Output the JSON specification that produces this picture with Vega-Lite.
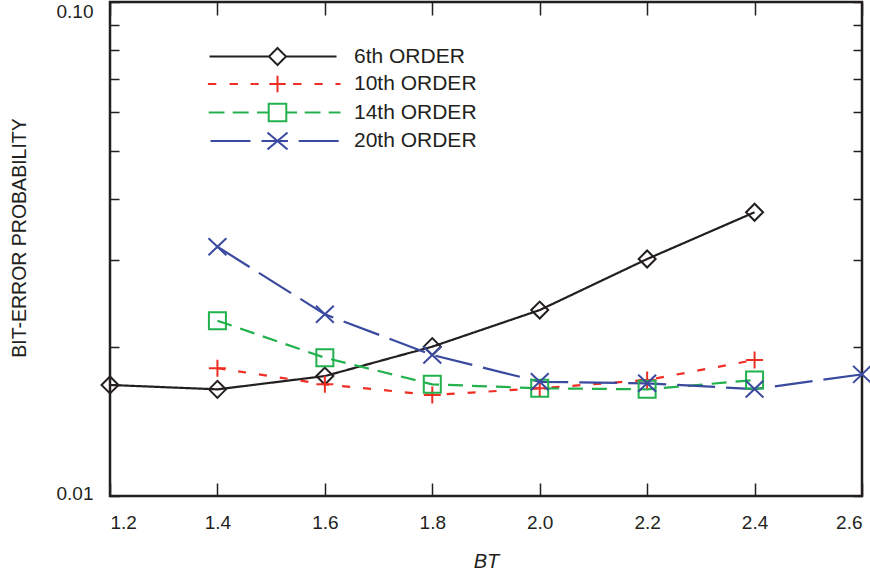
{
  "$schema": "https://vega.github.io/schema/vega-lite/v6.json",
  "width": 752,
  "height": 494,
  "autosize": "none",
  "padding": {"left": 110, "top": 2, "right": 8, "bottom": 79},
  "config": {
    "font": "Liberation Sans",
    "view": {"stroke": "#231f20", "strokeWidth": 2.5},
    "axis": {
      "labelFont": "Liberation Sans",
      "labelFontSize": 19,
      "labelColor": "#231f20",
      "tickColor": "#231f20",
      "tickWidth": 1.5,
      "grid": false,
      "domain": false,
      "labelOverlap": false,
      "titleFont": "Liberation Sans",
      "titleFontSize": 20,
      "titleFontWeight": "normal",
      "titleColor": "#231f20"
    }
  },
  "data": {
    "values": [
      {"BT": 1.2, "series": "6th ORDER", "p": 0.01678},
      {"BT": 1.4, "series": "6th ORDER", "p": 0.01644},
      {"BT": 1.6, "series": "6th ORDER", "p": 0.01749},
      {"BT": 1.8, "series": "6th ORDER", "p": 0.02006},
      {"BT": 2.0, "series": "6th ORDER", "p": 0.02379},
      {"BT": 2.2, "series": "6th ORDER", "p": 0.03018},
      {"BT": 2.4, "series": "6th ORDER", "p": 0.03753},
      {"BT": 1.4, "series": "10th ORDER", "p": 0.01814},
      {"BT": 1.6, "series": "10th ORDER", "p": 0.01683},
      {"BT": 1.8, "series": "10th ORDER", "p": 0.01601},
      {"BT": 2.0, "series": "10th ORDER", "p": 0.01652},
      {"BT": 2.2, "series": "10th ORDER", "p": 0.01717},
      {"BT": 2.4, "series": "10th ORDER", "p": 0.01885},
      {"BT": 1.4, "series": "14th ORDER", "p": 0.02264},
      {"BT": 1.6, "series": "14th ORDER", "p": 0.01905},
      {"BT": 1.8, "series": "14th ORDER", "p": 0.01683},
      {"BT": 2.0, "series": "14th ORDER", "p": 0.01652},
      {"BT": 2.2, "series": "14th ORDER", "p": 0.01644},
      {"BT": 2.4, "series": "14th ORDER", "p": 0.01717},
      {"BT": 1.4, "series": "20th ORDER", "p": 0.03196},
      {"BT": 1.6, "series": "20th ORDER", "p": 0.02332},
      {"BT": 1.8, "series": "20th ORDER", "p": 0.01930},
      {"BT": 2.0, "series": "20th ORDER", "p": 0.01703},
      {"BT": 2.2, "series": "20th ORDER", "p": 0.01691},
      {"BT": 2.4, "series": "20th ORDER", "p": 0.01646},
      {"BT": 2.6, "series": "20th ORDER", "p": 0.01763}
    ]
  },
  "encoding": {
    "color": {
      "field": "series",
      "type": "nominal",
      "scale": {
        "domain": ["6th ORDER", "10th ORDER", "14th ORDER", "20th ORDER"],
        "range": ["#231f20", "#ee2e24", "#22b14c", "#3a4a9f"]
      },
      "legend": {
        "orient": "none",
        "legendX": 157,
        "legendY": 44,
        "title": null,
        "padding": 0,
        "symbolSize": 64,
        "symbolStrokeWidth": 2,
        "labelOffset": 66,
        "labelFontSize": 21,
        "labelFont": "Liberation Sans",
        "labelColor": "#231f20",
        "labelLimit": 0,
        "rowPadding": 2.5,
        "encode": {
          "symbols": {
            "update": {
              "shape": {"signal": "datum.value === '6th ORDER' ? 'M-17,0H-2.125M2.125,0H14.75M-2.125,0L0,-2.125L2.125,0L0,2.125Z' : datum.value === '10th ORDER' ? 'M-17.4,0H-15.3M-12,0H-9.9M-6.75,0H-4.7M-2.05,0H2.05M0,-2.05V2.05M3.9,0H6M9.25,0H11.3M14.5,0H15.75' : datum.value === '14th ORDER' ? 'M-17.2,0H-13.25M-11.2,0H-7.2M-5.1,0H-2.2M2.2,0H4.9M6.8,0H10.75M12.8,0H15.75M-2.2,-2.2H2.2V2.2H-2.2Z' : 'M-16.75,0H-6.75M-4,0H2.6M5.3,0H15.3M-2.5,-2.1L2.5,2.1M-2.5,2.1L2.5,-2.1'"},
              "fill": {"value": "transparent"},
              "strokeDash": {"value": [1, 0]}
            }
          }
        }
      }
    }
  },
  "layer": [
    {
      "mark": {"type": "line", "strokeWidth": 2.2},
      "encoding": {
        "x": {
          "field": "BT", "type": "quantitative",
          "scale": {"domain": [1.2, 2.6], "nice": false, "zero": false},
          "axis": {"orient": "top", "values": [1.2, 1.4, 1.6, 1.8, 2.0, 2.2, 2.4, 2.6], "labels": false, "tickSize": -13, "title": null}
        },
        "y": {
          "field": "p", "type": "quantitative",
          "scale": {"type": "log", "domain": [0.01, 0.1], "nice": false},
          "axis": {"orient": "right", "values": [0.01, 0.02, 0.03, 0.04, 0.05, 0.06, 0.07, 0.08, 0.09, 0.1], "labels": false, "tickSize": -9, "title": null}
        },
        "strokeDash": {
          "field": "series", "type": "nominal",
          "scale": {
            "range": [[8, 13], [15, 9], [38, 11], [1, 0]]
          },
          "legend": null
        }
      }
    },
    {
      "mark": {"type": "point", "filled": false, "size": 289, "strokeWidth": 2, "opacity": 1},
      "encoding": {
        "x": {
          "field": "BT", "type": "quantitative",
          "scale": {"domain": [1.2, 2.6], "nice": false, "zero": false},
          "axis": {"orient": "bottom", "values": [1.2, 1.4, 1.6, 1.8, 2.0, 2.2, 2.4, 2.6], "format": ".1f", "labelFlush": true, "tickSize": -13, "labelPadding": 30, "title": "BT", "titleFontStyle": "italic", "titlePadding": 19}
        },
        "y": {
          "field": "p", "type": "quantitative",
          "scale": {"type": "log", "domain": [0.01, 0.1], "nice": false},
          "axis": {
            "orient": "left",
            "values": [0.01, 0.02, 0.03, 0.04, 0.05, 0.06, 0.07, 0.08, 0.09, 0.1],
            "labelExpr": "abs(datum.value - 0.01) < 1e-9 ? '0.01' : abs(datum.value - 0.1) < 1e-9 ? '0.10' : ''",
            "labelBaseline": {"condition": {"test": "datum.value > 0.05", "value": "top"}, "value": "middle"},
            "labelOffset": {"condition": {"test": "datum.value < 0.05", "value": -3}, "value": 0},
            "tickSize": -9,
            "labelPadding": 26,
            "title": "BIT-ERROR PROBABILITY",
            "titleFontSize": 19.5,
            "titleY": 235.5,
            "titlePadding": 27
          }
        },
        "shape": {
          "field": "series", "type": "nominal",
          "scale": {
            "range": ["M-1,0H1M0,-1V1", "M-1,-1H1V1H-1Z", "M-1.05,-1L1.05,1M-1.05,1L1.05,-1", "M-1,0L0,-1L1,0L0,1Z"]
          },
          "legend": null
        }
      }
    }
  ],
  "resolve": {"axis": {"x": "independent", "y": "independent"}}
}
